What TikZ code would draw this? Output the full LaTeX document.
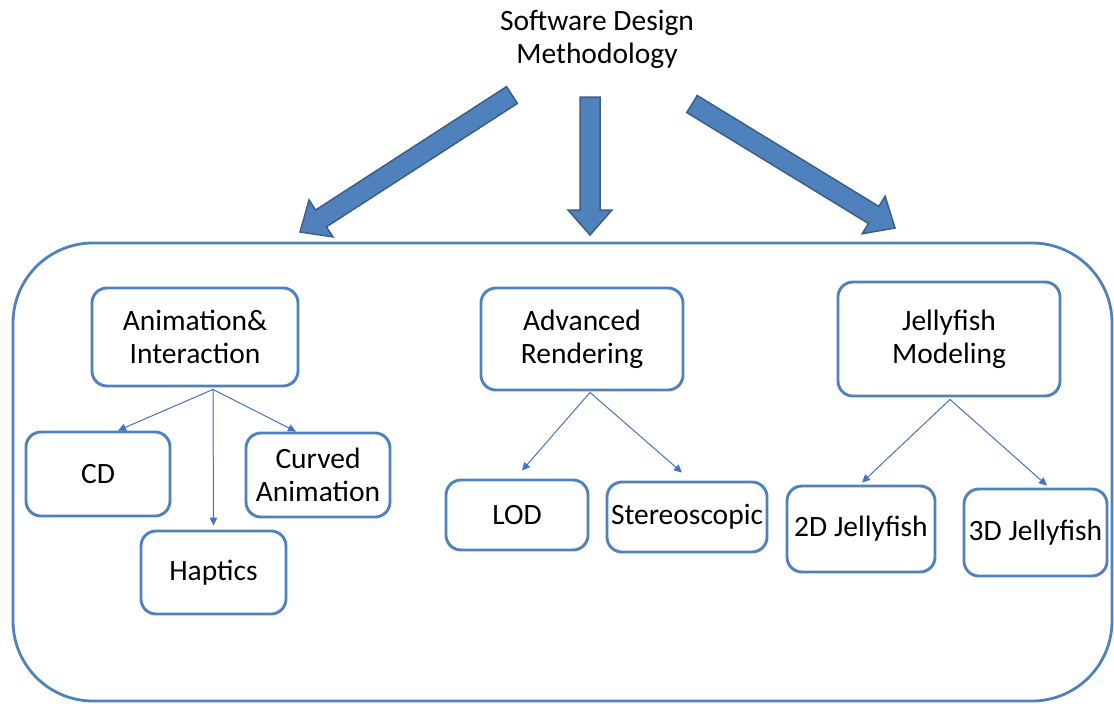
\documentclass[tikz,border=0pt]{standalone}
\usepackage{fontspec}
\setmainfont{Carlito}
\usetikzlibrary{arrows.meta,calc}
\definecolor{boxblue}{HTML}{4F81BD}
\definecolor{fatedge}{HTML}{3A5F8B}
\definecolor{linkblue}{HTML}{4472C4}

% block arrow from a tail coordinate to a tip coordinate
\newcommand{\blockarrow}[2]{%
  \draw[fat]
    ($(#1)!10pt!90:(#2)$) --
    ($($(#2)!25pt!(#1)$)!10pt!-90:(#1)$) --
    ($($(#2)!25pt!(#1)$)!22pt!-90:(#1)$) --
    (#2) --
    ($($(#2)!25pt!(#1)$)!22pt!90:(#1)$) --
    ($($(#2)!25pt!(#1)$)!10pt!90:(#1)$) --
    ($(#1)!10pt!-90:(#2)$) -- cycle;}

\begin{document}
\begin{tikzpicture}[x=1pt,y=-1pt,
  every node/.style={font=\fontsize{29.5}{33}\selectfont, text=black},
  topic/.style={draw=boxblue, line width=2.9pt, rounded corners=15pt,
    align=center, inner sep=0pt},
  panel/.style={draw=boxblue, line width=2.8pt, rounded corners=80pt, inner sep=0pt},
  link/.style={draw=linkblue, line width=1pt, -{Triangle[length=8pt,width=7.5pt]}},
  fat/.style={fill=boxblue, draw=fatedge, line width=1.5pt, line join=miter}]

\useasboundingbox (0,0) rectangle (1114,704);

% title and the panel that holds the three branches
\node[align=center] (title) at (597,39) {Software Design\\Methodology};
\node[panel, minimum width=1099pt, minimum height=458pt] (panel) at (562.5,472) {};

% block arrows from the title down to the panel
\coordinate (lt) at (512,95);   \coordinate (lp) at (300,232);
\coordinate (mt) at (590,97);   \coordinate (mp) at (590,235);
\coordinate (rt) at (692,104);  \coordinate (rp) at (895,228);
\blockarrow{lt}{lp}
\blockarrow{mt}{mp}
\blockarrow{rt}{rp}

% branch heads
\node[topic, minimum width=206pt, minimum height=98pt]  (ai) at (195,337) {Animation\&\\Interaction};
\node[topic, minimum width=202pt, minimum height=102pt] (ar) at (582,339) {Advanced\\Rendering};
\node[topic, minimum width=222pt, minimum height=114pt] (jm) at (949,339) {Jellyfish\\Modeling};

% leaves
\node[topic, minimum width=144pt, minimum height=84pt] (cd)      at (98,474)    {CD};
\node[topic, minimum width=144pt, minimum height=84pt] (curved)  at (318,475)   {Curved\\Animation};
\node[topic, minimum width=145pt, minimum height=83pt] (haptics) at (213.5,572.5) {Haptics};
\node[topic, minimum width=142pt, minimum height=70pt] (lod)     at (517,515)   {LOD};
\node[topic, minimum width=160pt, minimum height=70pt] (stereo)  at (687,517)   {Stereoscopic};
\node[topic, minimum width=148pt, minimum height=86pt] (d2)      at (861,529)   {2D Jellyfish};
\node[topic, minimum width=143pt, minimum height=87pt] (d3)      at (1035.5,532.5) {3D Jellyfish};

% thin connectors
\coordinate (ais) at ($(ai.south)+(18,2)$);
\draw[link] (ais) -- ($(cd.north)+(20,0)$);
\draw[link] (ais) -- ($(curved.north)+(-22,0)$);
\draw[link] (ais) -- ($(haptics.north)+(0,-4)$);

\coordinate (ars) at ($(ar.south)+(8,1)$);
\draw[link] (ars) -- ($(lod.north)+(5,-8)$);
\draw[link] (ars) -- ($(stereo.north)+(-5,-8)$);

\coordinate (jms) at ($(jm.south)+(1,2)$);
\draw[link] (jms) -- ($(d2.north)+(1,-2)$);
\draw[link] (jms) -- ($(d3.north)+(11.5,-2)$);

\end{tikzpicture}
\end{document}
